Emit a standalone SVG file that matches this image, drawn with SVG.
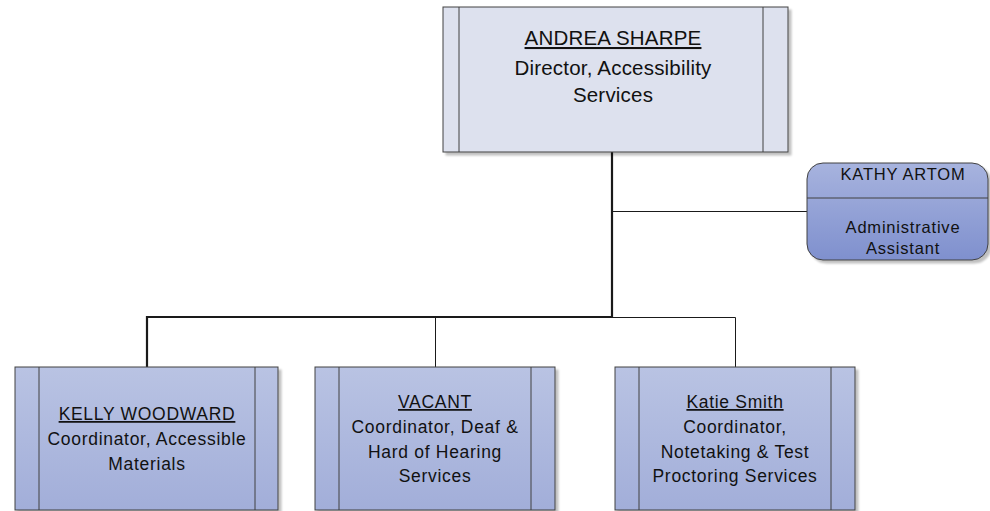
<svg xmlns="http://www.w3.org/2000/svg" width="990" height="511" viewBox="0 0 990 511">
<defs>
<linearGradient id="gBlue" x1="0" y1="0" x2="0" y2="1">
<stop offset="0" stop-color="#b9c3e3"/>
<stop offset="1" stop-color="#a2aed9"/>
</linearGradient>
<linearGradient id="gKathy" x1="0" y1="0" x2="0" y2="1">
<stop offset="0" stop-color="#a7b3de"/>
<stop offset="1" stop-color="#7f90ce"/>
</linearGradient>
<filter id="sh" x="-5%" y="-5%" width="115%" height="115%">
<feGaussianBlur in="SourceAlpha" stdDeviation="1"/>
<feOffset dx="3" dy="3"/>
<feComponentTransfer><feFuncA type="linear" slope="0.25"/></feComponentTransfer>
<feMerge><feMergeNode/><feMergeNode in="SourceGraphic"/></feMerge>
</filter>
</defs>
<style>
.box{stroke:#404040;stroke-width:1}
.div{stroke:#404040;stroke-width:1;fill:none}
.t{font-family:"Liberation Sans",Arial,sans-serif;font-size:17.5px;letter-spacing:0.7px;fill:#111;text-anchor:middle}
.tk{font-family:"Liberation Sans",Arial,sans-serif;font-size:16.5px;letter-spacing:0.8px;fill:#111;text-anchor:middle}
.tt{font-family:"Liberation Sans",Arial,sans-serif;font-size:20.5px;letter-spacing:0.2px;fill:#111;text-anchor:middle}
.u{text-decoration:underline}
.thick{stroke:#1a1a1a;stroke-width:2.2;fill:none}
.thin{stroke:#1a1a1a;stroke-width:1;fill:none}
</style>
<g id="connectors">
<line class="thick" x1="612" y1="152" x2="612" y2="317"/>
<line class="thin" x1="612" y1="211.5" x2="807" y2="211.5"/>
<polyline class="thick" points="147,367 147,317 612,317"/>
<polyline class="thin" points="612,317.5 735.5,317.5 735.5,367"/>
<line class="thin" x1="435.5" y1="317" x2="435.5" y2="367"/>
</g>
<g id="andrea">
<rect class="box" x="443" y="7" width="345" height="145" fill="#dde1ee" filter="url(#sh)"/>
<line class="div" x1="459" y1="7" x2="459" y2="152"/>
<line class="div" x1="763" y1="7" x2="763" y2="152"/>
<text class="tt u" x="613" y="45">ANDREA SHARPE</text>
<text class="tt" x="613" y="75">Director, Accessibility</text>
<text class="tt" x="613" y="102">Services</text>
</g>
<g id="kathy">
<rect class="box" x="807" y="163" width="181" height="97" rx="16" ry="16" fill="url(#gKathy)" filter="url(#sh)"/>
<line class="div" x1="807" y1="198" x2="988" y2="198"/>
<text class="tk" x="903" y="180">KATHY ARTOM</text>
<text class="tk" x="903" y="233">Administrative</text>
<text class="tk" x="903" y="254">Assistant</text>
</g>
<g id="kelly">
<rect class="box" x="15" y="367" width="263" height="143" fill="url(#gBlue)" filter="url(#sh)"/>
<line class="div" x1="39" y1="367" x2="39" y2="510"/>
<line class="div" x1="255" y1="367" x2="255" y2="510"/>
<text class="t u" x="147" y="420">KELLY WOODWARD</text>
<text class="t" x="147" y="445">Coordinator, Accessible</text>
<text class="t" x="147" y="470">Materials</text>
</g>
<g id="vacant">
<rect class="box" x="315" y="367" width="240" height="143" fill="url(#gBlue)" filter="url(#sh)"/>
<line class="div" x1="339" y1="367" x2="339" y2="510"/>
<line class="div" x1="531" y1="367" x2="531" y2="510"/>
<text class="t u" x="435" y="408">VACANT</text>
<text class="t" x="435" y="433">Coordinator, Deaf &amp;</text>
<text class="t" x="435" y="458">Hard of Hearing</text>
<text class="t" x="435" y="482">Services</text>
</g>
<g id="katie">
<rect class="box" x="615" y="367" width="240" height="143" fill="url(#gBlue)" filter="url(#sh)"/>
<line class="div" x1="639" y1="367" x2="639" y2="510"/>
<line class="div" x1="831" y1="367" x2="831" y2="510"/>
<text class="t u" x="735" y="408">Katie Smith</text>
<text class="t" x="735" y="433">Coordinator,</text>
<text class="t" x="735" y="458">Notetaking &amp; Test</text>
<text class="t" x="735" y="482">Proctoring Services</text>
</g>
</svg>
